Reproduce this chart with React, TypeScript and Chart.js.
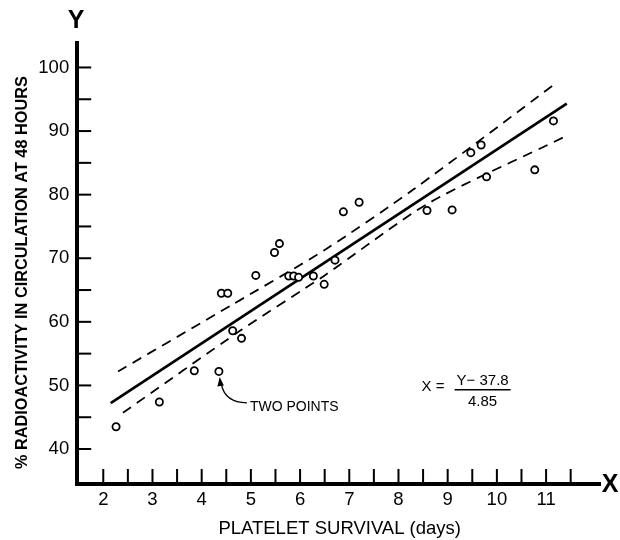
import React, { useEffect, useRef } from "react";
import { Chart, registerables } from "chart.js";

Chart.register(...registerables);

// ---- data ----
const SURVIVAL_DAYS = [
  2.26, 3.14, 3.85, 4.35, 4.40, 4.53, 4.63, 4.81, 5.10, 5.48, 5.58, 5.77, 5.87,
  5.97, 6.27, 6.49, 6.71, 6.88, 7.20, 8.58, 9.09, 9.47, 9.68, 9.79, 10.77, 11.15,
];
const RADIOACTIVITY_PCT = [
  43.5, 47.4, 52.3, 52.2, 64.5, 64.5, 58.6, 57.4, 67.3, 70.9, 72.3, 67.2, 67.2,
  67.0, 67.2, 65.9, 69.7, 77.3, 78.8, 77.5, 77.6, 86.6, 87.8, 82.8, 83.9, 91.6,
];
const TWO_POINTS_INDEX = 3;

const FIT_X = [2.15, 11.42];
const FIT_Y = [47.2, 94.3];

const UPPER_X = [2.3, 4.6, 6.5, 8.3, 11.18];
const UPPER_Y = [52.2, 62.6, 71.3, 80.8, 97.4];

const LOWER_X = [2.4, 4.8, 6.5, 8.6, 11.35];
const LOWER_Y = [45.7, 58.7, 67.3, 78.6, 89.0];

const X_TICKS = [2, 2.5, 3, 3.5, 4, 4.5, 5, 5.5, 6, 6.5, 7, 7.5, 8, 8.5, 9, 9.5, 10, 10.5, 11, 11.5];
const X_LABELED = [2, 3, 4, 5, 6, 7, 8, 9, 10, 11];
const Y_TICKS = [40, 45, 50, 55, 60, 65, 70, 75, 80, 85, 90, 95, 100];
const Y_LABELED = [40, 50, 60, 70, 80, 90, 100];

const X_TITLE = "PLATELET SURVIVAL (days)";
const Y_TITLE = "% RADIOACTIVITY IN CIRCULATION AT 48 HOURS";
const EQ_LEFT = "X =";
const EQ_NUM = "Y\u2212 37.8";
const EQ_DEN = "4.85";
const NOTE = "TWO POINTS";

const FONT = '"Liberation Sans", Arial, sans-serif';

const toXY = (xs: number[], ys: number[]) => xs.map((x, i) => ({ x, y: ys[i] }));

const decorations = {
  id: "decorations",
  afterDraw(chart: any) {
    const { ctx, chartArea, scales } = chart;
    const { left, top, right, bottom } = chartArea;
    const sx = scales.x;
    const sy = scales.y;
    ctx.save();
    ctx.strokeStyle = "#000";
    ctx.fillStyle = "#000";
    ctx.lineCap = "butt";

    // tick marks (inside the axes)
    ctx.lineWidth = 2;
    X_TICKS.forEach((v) => {
      const px = sx.getPixelForValue(v);
      ctx.beginPath();
      ctx.moveTo(px, bottom);
      ctx.lineTo(px, bottom - 15);
      ctx.stroke();
    });
    Y_TICKS.forEach((v) => {
      const py = sy.getPixelForValue(v);
      ctx.beginPath();
      ctx.moveTo(left, py);
      ctx.lineTo(left + 14, py);
      ctx.stroke();
    });

    // axis letters
    ctx.textAlign = "center";
    ctx.textBaseline = "middle";
    ctx.font = `bold 25px ${FONT}`;
    ctx.fillText("Y", left - 1, top - 22);
    ctx.fillText("X", right + 10, bottom + 1);

    // axis titles
    ctx.font = `18.5px ${FONT}`;
    ctx.fillText(X_TITLE, (left + right) / 2 + 1, 529);
    ctx.save();
    ctx.translate(23, (top + bottom) / 2 + 9);
    ctx.rotate(-Math.PI / 2);
    ctx.font = `bold 16.3px ${FONT}`;
    ctx.fillText(Y_TITLE, 0, 0);
    ctx.restore();

    // equation
    const ex = sx.getPixelForValue(8.47);
    const ey = sy.getPixelForValue(49.8);
    ctx.font = `15px ${FONT}`;
    ctx.textAlign = "left";
    ctx.fillText(EQ_LEFT, ex, ey);
    ctx.textAlign = "center";
    const fx = ex + 61;
    ctx.fillText(EQ_NUM, fx, ey - 6);
    ctx.fillText(EQ_DEN, fx, ey + 15.5);
    ctx.lineWidth = 1.5;
    ctx.beginPath();
    ctx.moveTo(ex + 33, ey + 3);
    ctx.lineTo(ex + 89, ey + 3);
    ctx.stroke();

    // "TWO POINTS" note with arrow
    const ax = sx.getPixelForValue(SURVIVAL_DAYS[TWO_POINTS_INDEX]);
    const ay = sy.getPixelForValue(RADIOACTIVITY_PCT[TWO_POINTS_INDEX]);
    ctx.font = `14px ${FONT}`;
    ctx.textAlign = "left";
    ctx.fillText(NOTE, ax + 31, ay + 35.5);
    ctx.lineWidth = 1.3;
    ctx.beginPath();
    ctx.moveTo(ax + 28, ay + 31.5);
    ctx.quadraticCurveTo(ax + 6, ay + 31, ax + 2.5, ay + 13);
    ctx.stroke();
    ctx.beginPath();
    ctx.moveTo(ax + 0.8, ay + 5.5);
    ctx.lineTo(ax - 1.5, ay + 15);
    ctx.lineTo(ax + 5, ay + 14);
    ctx.closePath();
    ctx.fill();

    ctx.restore();
  },
};

export default function App() {
  const ref = useRef<HTMLCanvasElement>(null);

  useEffect(() => {
    const canvas = ref.current;
    if (!canvas) return;
    const chart = new Chart(canvas, {
      type: "scatter",
      data: {
        datasets: [
          {
            label: "Patients",
            data: toXY(SURVIVAL_DAYS, RADIOACTIVITY_PCT),
            showLine: false,
            pointRadius: 3.6,
            pointBorderWidth: 1.8,
            pointBackgroundColor: "#fff",
            pointBorderColor: "#000",
            order: 0,
          },
          {
            label: "Regression",
            data: toXY(FIT_X, FIT_Y),
            showLine: true,
            borderColor: "#000",
            borderWidth: 2.7,
            pointRadius: 0,
            order: 1,
          },
          {
            label: "Upper limit",
            data: toXY(UPPER_X, UPPER_Y),
            showLine: true,
            borderColor: "#000",
            borderWidth: 1.8,
            borderDash: [10, 7],
            tension: 0.25,
            pointRadius: 0,
            order: 2,
          },
          {
            label: "Lower limit",
            data: toXY(LOWER_X, LOWER_Y),
            showLine: true,
            borderColor: "#000",
            borderWidth: 1.8,
            borderDash: [10, 7],
            tension: 0.25,
            pointRadius: 0,
            order: 3,
          },
        ],
      },
      options: {
        responsive: false,
        animation: false,
        devicePixelRatio: 1,
        layout: { padding: { top: 43.3, right: 19.8, left: 0, bottom: 0 } },
        plugins: {
          legend: { display: false },
          tooltip: { enabled: false },
          title: { display: false },
        },
        scales: {
          x: {
            type: "linear",
            position: "bottom",
            min: 1.47,
            max: 12.1,
            afterBuildTicks: (s: any) => {
              s.ticks = X_TICKS.map((v) => ({ value: v }));
            },
            afterFit: (s: any) => {
              s.height = 56;
            },
            grid: { display: false, drawTicks: false, tickLength: 0 },
            border: { display: true, color: "#000", width: 4 },
            ticks: {
              autoSkip: false,
              maxRotation: 0,
              padding: 5,
              color: "#000",
              font: { family: FONT, size: 18.5 },
              callback: (v: any) => (X_LABELED.includes(Number(v)) ? String(v) : ""),
            },
          },
          y: {
            type: "linear",
            position: "left",
            min: 34.5,
            max: 103.8,
            afterBuildTicks: (s: any) => {
              s.ticks = Y_TICKS.map((v) => ({ value: v }));
            },
            afterFit: (s: any) => {
              s.width = 77.2;
            },
            grid: { display: false, drawTicks: false, tickLength: 0 },
            border: { display: true, color: "#000", width: 4 },
            ticks: {
              autoSkip: false,
              padding: 8,
              color: "#000",
              font: { family: FONT, size: 18.5 },
              callback: (v: any) => (Y_LABELED.includes(Number(v)) ? String(v) : ""),
            },
          },
        },
      },
      plugins: [decorations],
    } as any);
    return () => chart.destroy();
  }, []);

  return (
    <div
      style={{
        position: "fixed",
        left: 0,
        top: 0,
        width: 620,
        height: 540,
        background: "#fff",
      }}
    >
      <canvas ref={ref} width={620} height={540} style={{ display: "block", width: 620, height: 540 }} />
    </div>
  );
}
